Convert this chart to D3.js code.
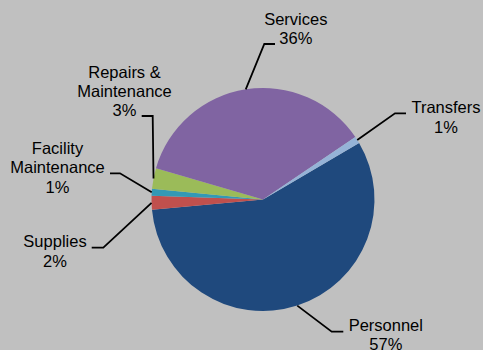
<!DOCTYPE html>
<html>
<head>
<meta charset="utf-8">
<script src="https://cdn.jsdelivr.net/npm/d3@7"></script>
<style>
  html, body { margin: 0; padding: 0; background: #c0c0c0; }
  svg { display: block; }
  text { font-family: "Liberation Sans", Arial, sans-serif; font-size: 16.5px; fill: #000; }
</style>
</head>
<body>
<svg id="chart" width="483" height="350"></svg>
<script>
// Budget shares by expense category (percent)
const categories = ["Personnel", "Supplies", "Facility Maintenance", "Repairs & Maintenance", "Services", "Transfers"];
const shares = [57, 2, 1, 3, 36, 1];
const nameLines = [["Personnel"], ["Supplies"], ["Facility", "Maintenance"], ["Repairs &", "Maintenance"], ["Services"], ["Transfers"]];
const colors = ["#1f497d", "#c0504d", "#3399b5", "#9bbb59", "#8064a2", "#95b3d7"];

// Label placement: text centre x, first baseline y, and the leader's horizontal stub
const labelLayout = [
  { x: 385.8, y: 330.7, stub: [343.3, 331.7, 331.7, 331.7] },
  { x: 55,    y: 247.3, stub: [91.7, 247.7, 103.3, 247.7] },
  { x: 57.5,  y: 154,   stub: [110, 173.3, 120, 173.3] },
  { x: 124.5, y: 77.7,  stub: [141.7, 116, 152.7, 116] },
  { x: 295.8, y: 25,    stub: [275, 44, 264.3, 44] },
  { x: 446,   y: 113.3, stub: [406, 113.3, 395, 113.3] }
];

const W = 483, H = 350;
const cx = 263, cy = 199.5, R = 111.5;
const lineGap = 19.3;
const start = 59.5 * Math.PI / 180;

const svg = d3.select("#chart");
const g = svg.append("g").attr("transform", `translate(${cx},${cy})`);

const pie = d3.pie().sort(null).value(d => d).startAngle(start).endAngle(start + 2 * Math.PI);
const arcs = pie(shares);
const arc = d3.arc().innerRadius(0).outerRadius(R);

g.selectAll("path.slice")
  .data(arcs)
  .join("path")
  .attr("class", "slice")
  .attr("d", arc)
  .attr("fill", (d, i) => colors[i]);

// Leader lines from each slice's outer edge to its label
const line = d3.line();
arcs.forEach((d, i) => {
  const mid = (d.startAngle + d.endAngle) / 2;
  const px = cx + R * Math.sin(mid);
  const py = cy - R * Math.cos(mid);
  const s = labelLayout[i].stub;
  svg.append("path")
    .attr("d", line([[s[0], s[1]], [s[2], s[3]], [px, py]]))
    .attr("fill", "none")
    .attr("stroke", "#000")
    .attr("stroke-width", 1.8);
});

// Category name and percentage labels
const fmt = d3.format(".0%");
arcs.forEach((d, i) => {
  const L = labelLayout[i];
  const lines = nameLines[i].concat([fmt(shares[i] / 100)]);
  const t = svg.append("text").attr("text-anchor", "middle");
  lines.forEach((s, k) => {
    t.append("tspan").attr("x", L.x).attr("y", L.y + k * lineGap).text(s);
  });
});
</script>
</body>
</html>
